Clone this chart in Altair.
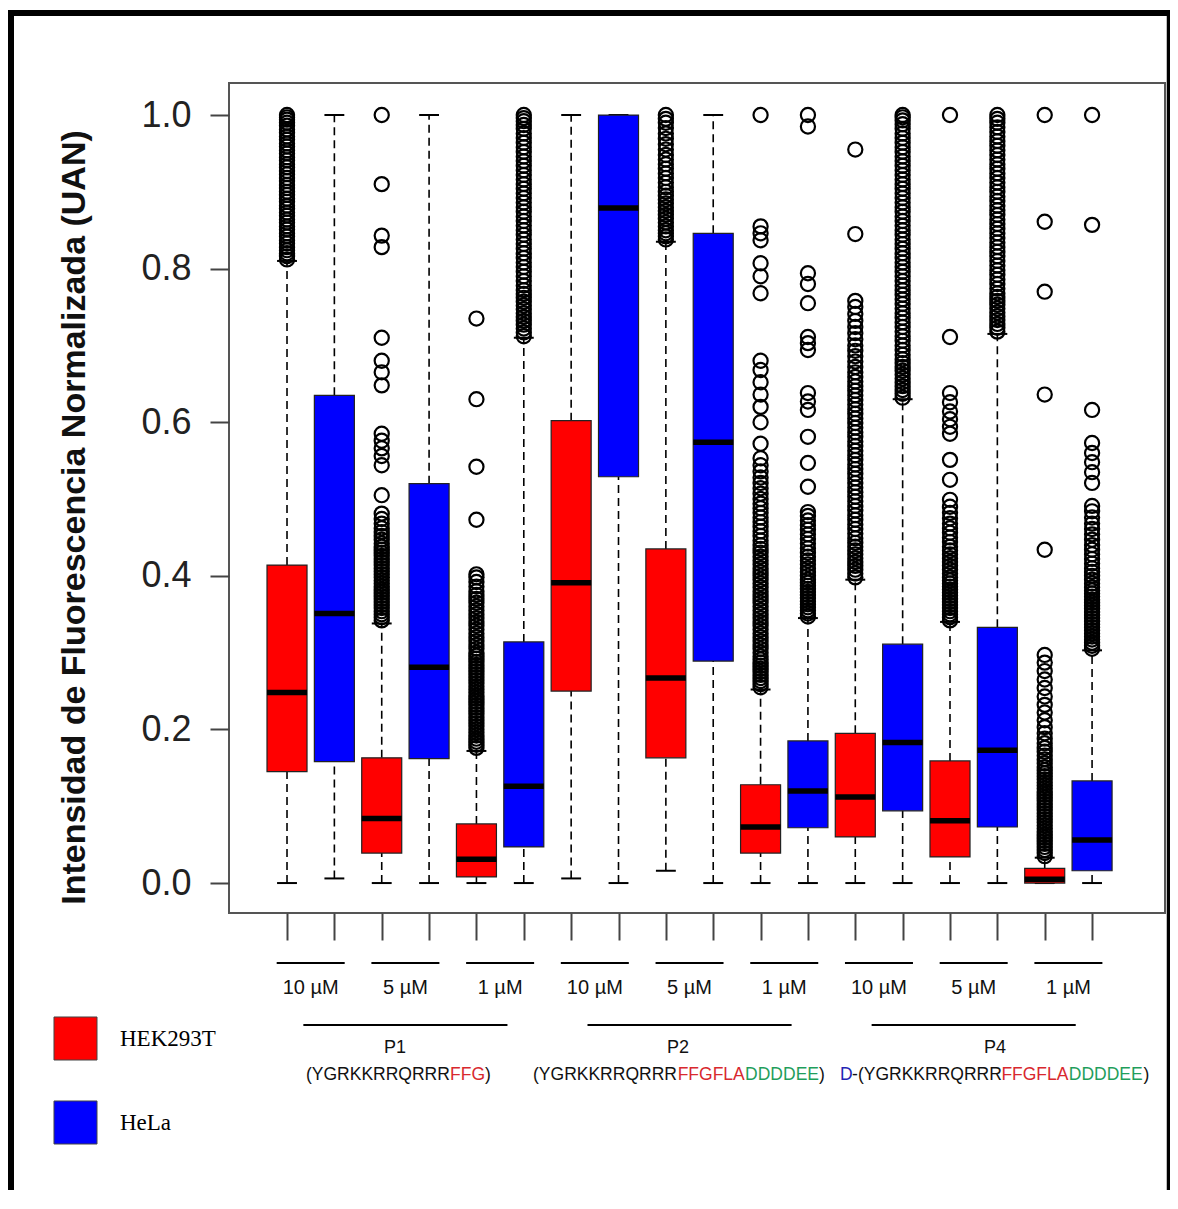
import altair as alt
import pandas as pd

# ---------------- data ----------------
cell_lines = ["HEK293T", "HeLa"]
box_cell = ["HEK293T", "HeLa"] * 9
box_pos = list(range(1, 19))
whisk_lo = [0.0, 0.006, 0.0, 0.0, 0.0, 0.0, 0.006, 0.0, 0.016, 0.0, 0.0, 0.0, 0.0, 0.0, 0.0, 0.0, 0.0, 0.0]
q1 = [0.145, 0.158, 0.039, 0.162, 0.008, 0.047, 0.25, 0.529, 0.163, 0.289, 0.039, 0.072, 0.06, 0.094, 0.034, 0.073, 0.0, 0.016]
median = [0.248, 0.351, 0.084, 0.281, 0.031, 0.126, 0.391, 0.879, 0.267, 0.574, 0.073, 0.12, 0.112, 0.183, 0.081, 0.173, 0.005, 0.056]
q3 = [0.414, 0.635, 0.163, 0.52, 0.077, 0.314, 0.602, 1.0, 0.435, 0.846, 0.128, 0.185, 0.195, 0.311, 0.159, 0.333, 0.019, 0.133]
whisk_hi = [0.81, 1.0, 0.338, 1.0, 0.172, 0.71, 1.0, 1.0, 0.835, 1.0, 0.252, 0.345, 0.395, 0.63, 0.34, 0.715, 0.033, 0.303]

out_1 = [0.812, 0.816, 0.82, 0.824, 0.828, 0.833, 0.837, 0.842, 0.846, 0.851, 0.855, 0.86, 0.864, 0.869, 0.873, 0.878, 0.882, 0.887, 0.891, 0.896, 0.9, 0.905, 0.909, 0.914, 0.918, 0.923, 0.927, 0.932, 0.936, 0.941, 0.945, 0.95, 0.954, 0.959, 0.963, 0.968, 0.972, 0.977, 0.981, 0.986, 0.99, 0.994, 0.997, 1.0]
out_2 = []
out_3 = [0.342, 0.346, 0.35, 0.354, 0.358, 0.362, 0.366, 0.37, 0.374, 0.378, 0.382, 0.386, 0.39, 0.394, 0.398, 0.402, 0.406, 0.41, 0.414, 0.418, 0.422, 0.426, 0.43, 0.434, 0.438, 0.442, 0.447, 0.452, 0.457, 0.462, 0.468, 0.474, 0.481, 0.505, 0.544, 0.556, 0.566, 0.576, 0.585, 0.648, 0.665, 0.68, 0.71, 0.828, 0.843, 0.91, 1.0]
out_4 = []
out_5 = [0.176, 0.18, 0.184, 0.188, 0.192, 0.196, 0.2, 0.204, 0.208, 0.212, 0.216, 0.22, 0.224, 0.228, 0.232, 0.236, 0.24, 0.244, 0.248, 0.252, 0.256, 0.26, 0.264, 0.268, 0.272, 0.276, 0.28, 0.284, 0.288, 0.292, 0.296, 0.3, 0.305, 0.31, 0.315, 0.32, 0.325, 0.33, 0.335, 0.34, 0.345, 0.35, 0.355, 0.36, 0.365, 0.37, 0.375, 0.38, 0.386, 0.392, 0.398, 0.402, 0.473, 0.542, 0.63, 0.735]
out_6 = [0.712, 0.717, 0.722, 0.727, 0.732, 0.737, 0.742, 0.747, 0.752, 0.757, 0.762, 0.767, 0.772, 0.778, 0.784, 0.79, 0.796, 0.802, 0.808, 0.814, 0.82, 0.826, 0.832, 0.838, 0.844, 0.85, 0.856, 0.862, 0.868, 0.874, 0.88, 0.886, 0.892, 0.898, 0.904, 0.91, 0.916, 0.922, 0.928, 0.934, 0.94, 0.946, 0.952, 0.958, 0.964, 0.97, 0.976, 0.982, 0.987, 0.992, 0.996, 1.0]
out_7 = []
out_8 = []
out_9 = [0.838, 0.842, 0.846, 0.85, 0.855, 0.86, 0.865, 0.87, 0.875, 0.88, 0.885, 0.89, 0.895, 0.9, 0.906, 0.912, 0.918, 0.924, 0.93, 0.936, 0.942, 0.948, 0.955, 0.962, 0.969, 0.976, 0.983, 0.99, 0.995, 1.0]
out_10 = []
out_11 = [0.255, 0.259, 0.263, 0.267, 0.271, 0.275, 0.279, 0.283, 0.287, 0.291, 0.295, 0.3, 0.305, 0.31, 0.315, 0.32, 0.325, 0.33, 0.335, 0.34, 0.345, 0.35, 0.355, 0.36, 0.365, 0.37, 0.375, 0.38, 0.385, 0.39, 0.395, 0.4, 0.405, 0.41, 0.415, 0.42, 0.425, 0.43, 0.435, 0.44, 0.446, 0.452, 0.458, 0.464, 0.47, 0.476, 0.482, 0.488, 0.494, 0.5, 0.507, 0.514, 0.521, 0.528, 0.536, 0.544, 0.553, 0.572, 0.6, 0.62, 0.636, 0.652, 0.668, 0.68, 0.768, 0.79, 0.807, 0.837, 0.846, 0.855, 1.0]
out_12 = [0.347, 0.351, 0.355, 0.359, 0.363, 0.367, 0.371, 0.375, 0.379, 0.383, 0.387, 0.391, 0.395, 0.4, 0.405, 0.41, 0.415, 0.42, 0.425, 0.43, 0.436, 0.442, 0.448, 0.454, 0.46, 0.466, 0.472, 0.478, 0.483, 0.516, 0.547, 0.581, 0.616, 0.627, 0.638, 0.694, 0.703, 0.711, 0.755, 0.78, 0.794, 0.985, 1.0]
out_13 = [0.398, 0.403, 0.408, 0.413, 0.418, 0.423, 0.428, 0.433, 0.438, 0.443, 0.449, 0.455, 0.461, 0.467, 0.473, 0.479, 0.485, 0.491, 0.497, 0.503, 0.509, 0.515, 0.521, 0.527, 0.533, 0.539, 0.545, 0.551, 0.557, 0.563, 0.569, 0.575, 0.581, 0.587, 0.593, 0.599, 0.605, 0.611, 0.617, 0.623, 0.629, 0.635, 0.641, 0.647, 0.653, 0.659, 0.665, 0.672, 0.679, 0.686, 0.693, 0.7, 0.708, 0.716, 0.724, 0.732, 0.741, 0.75, 0.758, 0.845, 0.955]
out_14 = [0.632, 0.637, 0.642, 0.647, 0.652, 0.657, 0.662, 0.667, 0.672, 0.677, 0.682, 0.688, 0.694, 0.7, 0.706, 0.712, 0.718, 0.724, 0.73, 0.736, 0.742, 0.748, 0.754, 0.76, 0.766, 0.772, 0.778, 0.784, 0.79, 0.796, 0.802, 0.808, 0.814, 0.82, 0.826, 0.832, 0.838, 0.844, 0.85, 0.856, 0.862, 0.868, 0.874, 0.88, 0.886, 0.892, 0.898, 0.904, 0.91, 0.916, 0.922, 0.928, 0.934, 0.94, 0.946, 0.952, 0.958, 0.964, 0.97, 0.976, 0.982, 0.988, 0.993, 0.997, 1.0]
out_15 = [0.342, 0.346, 0.35, 0.354, 0.358, 0.362, 0.366, 0.37, 0.374, 0.378, 0.382, 0.386, 0.39, 0.394, 0.398, 0.403, 0.408, 0.413, 0.418, 0.423, 0.428, 0.433, 0.438, 0.444, 0.45, 0.456, 0.462, 0.468, 0.475, 0.482, 0.49, 0.499, 0.525, 0.551, 0.585, 0.594, 0.604, 0.614, 0.626, 0.638, 0.711, 1.0]
out_16 = [0.718, 0.723, 0.728, 0.733, 0.738, 0.743, 0.748, 0.753, 0.758, 0.763, 0.768, 0.774, 0.78, 0.786, 0.792, 0.798, 0.804, 0.81, 0.816, 0.822, 0.828, 0.834, 0.84, 0.846, 0.852, 0.858, 0.864, 0.87, 0.876, 0.882, 0.888, 0.894, 0.9, 0.906, 0.912, 0.918, 0.924, 0.93, 0.936, 0.942, 0.948, 0.954, 0.96, 0.966, 0.972, 0.978, 0.984, 0.99, 0.995, 1.0]
out_17 = [0.035, 0.039, 0.043, 0.047, 0.051, 0.055, 0.059, 0.063, 0.067, 0.071, 0.075, 0.079, 0.083, 0.087, 0.091, 0.095, 0.099, 0.103, 0.107, 0.111, 0.115, 0.119, 0.123, 0.127, 0.131, 0.135, 0.139, 0.143, 0.147, 0.151, 0.156, 0.161, 0.166, 0.171, 0.176, 0.182, 0.188, 0.195, 0.203, 0.212, 0.222, 0.232, 0.243, 0.254, 0.265, 0.276, 0.287, 0.297, 0.434, 0.636, 0.77, 0.861, 1.0]
out_18 = [0.305, 0.309, 0.313, 0.317, 0.321, 0.325, 0.329, 0.333, 0.337, 0.341, 0.345, 0.349, 0.353, 0.357, 0.361, 0.365, 0.369, 0.373, 0.377, 0.381, 0.385, 0.39, 0.395, 0.4, 0.405, 0.41, 0.416, 0.422, 0.428, 0.434, 0.44, 0.447, 0.454, 0.461, 0.468, 0.476, 0.484, 0.491, 0.521, 0.535, 0.548, 0.56, 0.573, 0.616, 0.857, 1.0]
outliers = [out_1, out_2, out_3, out_4, out_5, out_6, out_7, out_8, out_9,
            out_10, out_11, out_12, out_13, out_14, out_15, out_16, out_17, out_18]

y_tick_values = [0.0, 0.2, 0.4, 0.6, 0.8, 1.0]
y_title = "Intensidad de Fluorescencia Normalizada (UAN)"

conc_labels = ["10 µM", "5 µM", "1 µM"] * 3
pair_center = [1.5, 3.5, 5.5, 7.5, 9.5, 11.5, 13.5, 15.5, 17.5]
peptide_names = ["P1", "P2", "P4"]
peptide_group_center = [3.5, 9.5, 15.5]

seq_text = ["(YGRKKRRQRRR", "FFG", ")",
            "(YGRKKRRQRRR", "FFGFLA", "DDDDEE", ")",
            "D", "-(YGRKKRRQRRR", "FFGFLA", "DDDDEE", ")"]
seq_kind = ["plain", "hydro", "plain",
            "plain", "hydro", "acid", "plain",
            "dform", "plain", "hydro", "acid", "plain"]

# ---------------- layout (positions / styles) ----------------
seq_start = [1.401, 4.442, 5.182,
             6.195, 9.249, 10.673, 12.235,
             12.679, 12.933, 16.085, 17.508, 19.085]
peptide_label_x = [3.281, 9.258, 15.95]
kind_color = {"plain": "#111111", "hydro": "#d8282e", "acid": "#1f9e5c", "dform": "#2323b4"}

SANS = "Liberation Sans"
PW, PH = 936, 830
xs = alt.Scale(domain=[-0.225, 19.54], nice=False, zero=False)
ys = alt.Scale(domain=[-0.039, 1.0417], nice=False, zero=False)

box_df = pd.DataFrame({"pos": box_pos, "cell": box_cell, "lo": whisk_lo, "q1": q1,
                       "med": median, "q3": q3, "hi": whisk_hi})
out_df = pd.DataFrame([{"pos": p, "value": v} for p, vals in zip(box_pos, outliers) for v in vals])
conc_df = pd.DataFrame({"u": pair_center, "label": conc_labels})
pep_line_df = pd.DataFrame({"u": peptide_group_center})
pep_df = pd.DataFrame({"u": peptide_label_x, "label": peptide_names})
seq_df = pd.DataFrame({"u": seq_start, "text": seq_text, "kind": seq_kind})
one = pd.DataFrame({"k": [0]})

x_axis = alt.Axis(values=box_pos, labels=False, tickSize=27, tickWidth=2, tickColor="#444",
                  domain=False, grid=False, title=None)
y_axis = alt.Axis(values=y_tick_values, format=".1f", labelFont=SANS, labelFontSize=36,
                  labelColor="#222", tickSize=19, tickWidth=2, tickColor="#444", domain=False,
                  grid=False, labelPadding=19, title=y_title, titleFont=SANS,
                  titleFontWeight="bold", titleFontSize=34, titleColor="#111",
                  titleX=-145, titleY=434, titleAngle=270, titleAlign="center",
                  titleBaseline="alphabetic")


def X(field):
    return alt.X(field, scale=xs, axis=x_axis)


def Y(field):
    return alt.Y(field, scale=ys, axis=y_axis)


base = alt.Chart(box_df).transform_calculate(
    xl="datum.pos - 0.4225", xr="datum.pos + 0.4225",
    cl="datum.pos - 0.21", cr="datum.pos + 0.21")

whisk_up = base.mark_rule(color="black", strokeWidth=1.6, strokeDash=[8, 5]).encode(
    x=X("pos:Q"), y=Y("q3:Q"), y2="hi:Q")
whisk_dn = base.mark_rule(color="black", strokeWidth=1.6, strokeDash=[8, 5]).encode(
    x=X("pos:Q"), y=Y("lo:Q"), y2="q1:Q")
cap_hi = base.mark_rule(color="black", strokeWidth=2).encode(
    x=X("cl:Q"), x2="cr:Q", y=Y("hi:Q"))
cap_lo = base.mark_rule(color="black", strokeWidth=2).encode(
    x=X("cl:Q"), x2="cr:Q", y=Y("lo:Q"))
boxes = base.mark_rect(stroke="#222", strokeWidth=1.2).encode(
    x=X("xl:Q"), x2="xr:Q", y=Y("q1:Q"), y2="q3:Q",
    color=alt.Color("cell:N", scale=alt.Scale(domain=cell_lines, range=["#ff0000", "#0000ff"]),
                    legend=alt.Legend(title=None, orient="none", legendX=-176, legendY=933,
                                      symbolType="square", symbolSize=1850, rowPadding=35,
                                      labelFont="Liberation Serif", labelFontSize=23,
                                      labelColor="black", labelOffset=22, padding=0,
                                      symbolStrokeWidth=1, symbolStrokeColor="#444",
                                      symbolOpacity=1)))
medians = base.mark_rule(color="black", strokeWidth=5.5).encode(
    x=X("xl:Q"), x2="xr:Q", y=Y("med:Q"))
points = alt.Chart(out_df).mark_point(shape="circle", filled=False, size=200, strokeWidth=2.2,
                                      color="black", opacity=1).encode(
    x=X("pos:Q"), y=Y("value:Q"))

# annotations below the axis (y given in pixels relative to plot top)
conc_lines = alt.Chart(conc_df).transform_calculate(
    a="datum.u - 0.718", b="datum.u + 0.718").mark_rule(color="black", strokeWidth=2).encode(
    x=X("a:Q"), x2="b:Q", y=alt.value(880))
conc_text = alt.Chart(conc_df).mark_text(font=SANS, fontSize=20, color="#111",
                                         baseline="middle", align="center").encode(
    x=X("u:Q"), y=alt.value(905), text="label:N")
pep_lines = alt.Chart(pep_line_df).transform_calculate(
    a="datum.u - 2.155", b="datum.u + 2.155").mark_rule(color="black", strokeWidth=2).encode(
    x=X("a:Q"), x2="b:Q", y=alt.value(942))
pep_text = alt.Chart(pep_df).mark_text(font=SANS, fontSize=18, color="#111",
                                       baseline="middle", align="center").encode(
    x=X("u:Q"), y=alt.value(965), text="label:N")

seq_layers = []
for kind, col in kind_color.items():
    seq_layers.append(
        alt.Chart(seq_df[seq_df["kind"] == kind]).mark_text(
            font=SANS, fontSize=17.5, color=col, baseline="middle", align="left").encode(
            x=X("u:Q"), y=alt.value(992), text="text:N"))

# outer black frame of the figure (left, top, right)
frame_l = alt.Chart(one).mark_rule(color="black", strokeWidth=6).encode(
    x=alt.value(-218), y=alt.value(-73), y2=alt.value(1130))
frame_r = alt.Chart(one).mark_rule(color="black", strokeWidth=3.5).encode(
    x=alt.value(939.5), y=alt.value(-73), y2=alt.value(1130))
frame_t = alt.Chart(one).mark_rule(color="black", strokeWidth=6).encode(
    x=alt.value(-221), x2=alt.value(941.5), y=alt.value(-70))

chart = alt.layer(
    whisk_up, whisk_dn, cap_hi, cap_lo, boxes, medians, points,
    conc_lines, conc_text, pep_lines, pep_text, *seq_layers,
    frame_l, frame_r, frame_t
).properties(
    width=PW, height=PH,
    autosize=alt.AutoSizeParams(type="none"),
    padding={"left": 221, "top": 75, "right": 5, "bottom": 277},
    background="white",
).configure_view(stroke="#555", strokeWidth=2)

chart.save("out.html", embed_options={"renderer": "svg", "actions": False})
